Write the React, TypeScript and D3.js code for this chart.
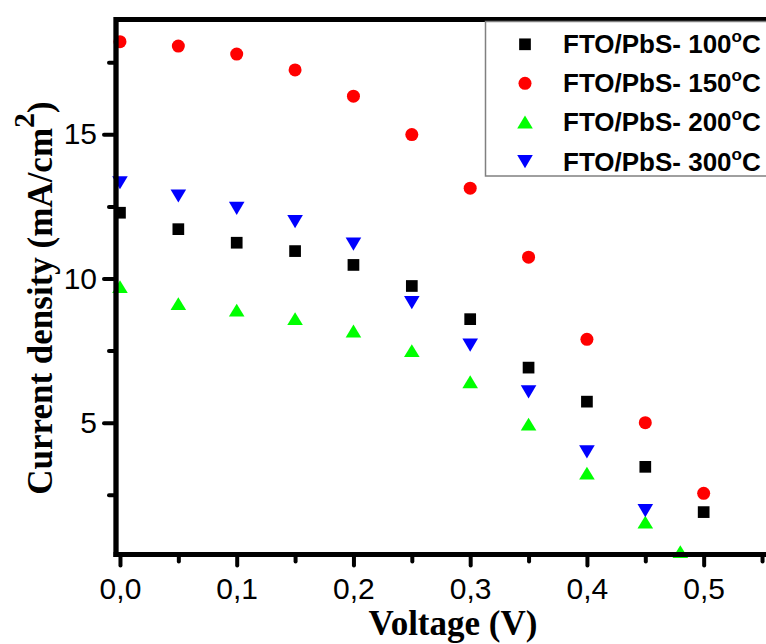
import React, { useEffect, useRef } from 'react';
import * as d3 from 'd3';

// voltage steps (V)
const voltages = [0, 0.05, 0.1, 0.15, 0.2, 0.25, 0.3, 0.35, 0.4, 0.45, 0.5];
const voltages200 = [0, 0.05, 0.1, 0.15, 0.2, 0.25, 0.3, 0.35, 0.4, 0.45, 0.48];
const voltages300 = [0, 0.05, 0.1, 0.15, 0.2, 0.25, 0.3, 0.35, 0.4, 0.45];

// current density (mA/cm2)
const j100 = [12.28, 11.71, 11.24, 10.95, 10.47, 9.74, 8.59, 6.91, 5.73, 3.47, 1.9];
const j150 = [18.21, 18.06, 17.78, 17.23, 16.32, 14.99, 13.13, 10.74, 7.89, 5.0, 2.55];
const j200 = [9.72, 9.13, 8.9, 8.61, 8.18, 7.5, 6.42, 4.95, 3.25, 1.55, 0.53];
const j300 = [13.32, 12.86, 12.43, 11.97, 11.19, 9.16, 7.69, 6.07, 3.99, 1.95];

const seriesLabels = ['FTO/PbS- 100', 'FTO/PbS- 150', 'FTO/PbS- 200', 'FTO/PbS- 300'];
const seriesColors = ['#000000', '#ff0000', '#00ff00', '#0000ff'];
const seriesShapes = ['square', 'circle', 'up', 'down'];

const xTicks = [0, 0.1, 0.2, 0.3, 0.4, 0.5];
const xMinorTicks = [0.05, 0.15, 0.25, 0.35, 0.45, 0.55];
const yTicks = [5, 10, 15];
const yMinorTicks = [2.5, 7.5, 12.5, 17.5];

const W = 766;
const H = 644;

const shapePath = (shape: string) => {
  if (shape === 'square') return d3.symbol(d3.symbolSquare, 137)();
  if (shape === 'circle') return d3.symbol(d3.symbolCircle, 133)();
  if (shape === 'up') return 'M-7.8,6.4L7.8,6.4L0,-6.4Z';
  return 'M-7.8,-6.6L7.8,-6.6L0,6.6Z';
};

const App = () => {
  const svgRef = useRef<SVGSVGElement>(null);

  useEffect(() => {
    const svg = d3.select(svgRef.current);
    svg.selectAll('*').remove();

    const left = 116, top = 19.5, bottom = 554.5;
    const x = d3.scaleLinear().domain([-0.0034, 0.56]).range([left, left + 0.5634 * 1167.4]);
    const y = d3.scaleLinear().domain([0.43, 18.98]).range([bottom, top]);

    const series = [
      { xs: voltages, ys: j100 },
      { xs: voltages, ys: j150 },
      { xs: voltages200, ys: j200 },
      { xs: voltages300, ys: j300 },
    ];

    // data points
    series.forEach((s, i) => {
      svg.append('g')
        .selectAll('path')
        .data(s.ys.map((v, k) => [s.xs[k], v]))
        .enter()
        .append('path')
        .attr('d', shapePath(seriesShapes[i]))
        .attr('transform', d => `translate(${x(d[0])},${y(d[1])})`)
        .attr('fill', seriesColors[i]);
    });

    // axes
    const fmt = (d: number) => d3.format('.1f')(d).replace('.', ',');
    const xAxis = svg.append('g')
      .attr('transform', `translate(0,${bottom})`)
      .call(d3.axisBottom(x).tickValues(xTicks).tickSize(11).tickPadding(12).tickFormat(d => fmt(+d)));
    const xMinor = svg.append('g')
      .attr('transform', `translate(0,${bottom})`)
      .call(d3.axisBottom(x).tickValues(xMinorTicks).tickSize(7).tickFormat(() => ''));
    const yAxis = svg.append('g')
      .attr('transform', `translate(${left},0)`)
      .call(d3.axisLeft(y).tickValues(yTicks).tickSize(12).tickPadding(7).tickFormat(d3.format('d')));
    const yMinor = svg.append('g')
      .attr('transform', `translate(${left},0)`)
      .call(d3.axisLeft(y).tickValues(yMinorTicks).tickSize(7).tickFormat(() => ''));

    [xAxis, xMinor, yAxis, yMinor].forEach(g => {
      g.select('.domain').remove();
      g.selectAll('line').attr('stroke', '#000').attr('stroke-width', 4).attr('stroke-linecap', 'round');
      g.selectAll('text')
        .attr('fill', '#000')
        .style('font-family', '"Liberation Sans", Arial, sans-serif')
        .style('font-size', '30px');
    });

    // frame lines
    svg.append('line').attr('x1', left).attr('x2', W + 10).attr('y1', top).attr('y2', top)
      .attr('stroke', '#000').attr('stroke-width', 5);
    svg.append('line').attr('x1', left - 2.5).attr('x2', W + 10).attr('y1', bottom).attr('y2', bottom)
      .attr('stroke', '#000').attr('stroke-width', 5);
    svg.append('line').attr('x1', left).attr('x2', left).attr('y1', top - 2.5).attr('y2', bottom + 2.5)
      .attr('stroke', '#000').attr('stroke-width', 5.3);

    // axis titles
    svg.append('text')
      .attr('x', 453).attr('y', 635)
      .attr('text-anchor', 'middle')
      .style('font-family', '"Liberation Serif", "Times New Roman", serif')
      .style('font-weight', 'bold')
      .style('font-size', '35px')
      .text('Voltage (V)');

    const yTitle = svg.append('text')
      .attr('transform', 'translate(52,298) rotate(-90)')
      .attr('text-anchor', 'middle')
      .style('font-family', '"Liberation Serif", "Times New Roman", serif')
      .style('font-weight', 'bold')
      .style('font-size', '35px');
    yTitle.append('tspan').text('Current density (mA/cm');
    yTitle.append('tspan').attr('dy', -18).style('font-size', '30px').text('2');
    yTitle.append('tspan').attr('dy', 18).text(')');

    // legend
    const legend = svg.append('g');
    legend.append('rect')
      .attr('x', 485.5).attr('y', top + 2).attr('width', W).attr('height', 176 - top - 2)
      .attr('fill', '#fff').attr('stroke', '#808080').attr('stroke-width', 1.5);
    const legendY = [44.3, 83.3, 122, 161.7];
    seriesLabels.forEach((label, i) => {
      legend.append('path')
        .attr('d', shapePath(seriesShapes[i]))
        .attr('transform', `translate(525,${legendY[i]})`)
        .attr('fill', seriesColors[i]);
      const t = legend.append('text')
        .attr('x', 563).attr('y', legendY[i] + 9)
        .style('font-family', '"Liberation Sans", Arial, sans-serif')
        .style('font-weight', 'bold')
        .style('font-size', '26px');
      t.append('tspan').text(label);
      t.append('tspan').attr('dy', -11).style('font-size', '17px').text('o');
      t.append('tspan').attr('dy', 11).text('C');
    });
  }, []);

  return (
    <svg
      ref={svgRef}
      width={W}
      height={H}
      style={{ position: 'absolute', left: 0, top: 0, background: '#fff' }}
    />
  );
};

export default App;
